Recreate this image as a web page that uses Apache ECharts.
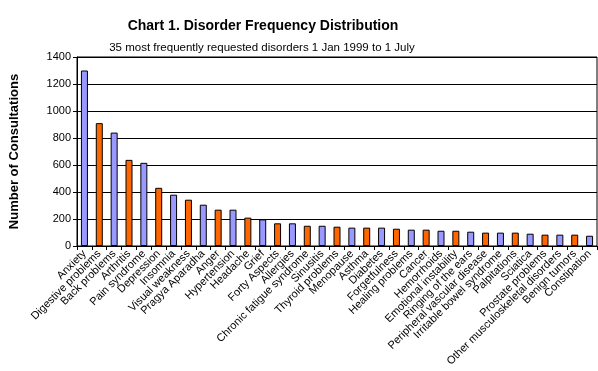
<!DOCTYPE html>
<html>
<head>
<meta charset="utf-8">
<script src="https://cdn.jsdelivr.net/npm/echarts@6/dist/echarts.min.js"></script>
<style>html,body{margin:0;padding:0;background:#fff}#c{width:598px;height:371px}</style>
</head>
<body>
<div id="c"></div>
<script>
const categories = ["Anxiety","Digestive problems","Back problems","Arthritis","Pain syndrome","Depression","Insomnia","Visual weakness","Pragya Aparadha","Anger","Hypertension","Headache","Grief","Forty Aspects","Allergies","Chronic fatigue syndrome","Sinusitis","Thyroid problems","Menopause","Asthma","Diabetes","Forgetfulness","Healing problems","Cancer","Hemorrhoids","Emotional instability","Ringing of the ears","Peripheral vascular disease","Irritable bowel syndrome","Palpitations","Sciatica","Prostate problems","Other musculoskeletal disorders","Benign tumors","Constipation"];
const values = [1300,910,840,638,616,431,380,343,306,269,269,210,197,168,168,150,150,143,136,136,136,128,121,121,113,113,106,99,99,99,91,84,84,84,76];
const yTicks = [0,200,400,600,800,1000,1200,1400];
const colors = ["#9999FF","#FF6600"];

const chart = echarts.init(document.getElementById('c'), null, {renderer:'canvas'});
chart.setOption({
  animation:false,
  backgroundColor:'#fff',
  title:[
    {text:'Chart 1. Disorder Frequency Distribution', left:258, top:14, textAlign:'center',
     textStyle:{fontFamily:'Arial, Liberation Sans', fontSize:14, fontWeight:'bold', color:'#000'}},
    {text:'35 most frequently requested disorders 1 Jan 1999 to 1 July', left:257, top:37, textAlign:'center',
     textStyle:{fontFamily:'Arial, Liberation Sans', fontSize:11.5, fontWeight:'normal', color:'#000'}}
  ],
  grid:{left:75, right:1, top:57, bottom:125, show:true, borderColor:'#000', borderWidth:1},
  xAxis:{
    type:'category', data:categories,
    axisLine:{lineStyle:{color:'#000', width:1}},
    axisTick:{show:true, alignWithLabel:false, length:4, lineStyle:{color:'#000'}},
    axisLabel:{rotate:45, interval:0, margin:6, fontFamily:'Arial, Liberation Sans', fontSize:11, color:'#000'}
  },
  yAxis:{
    type:'value', min:0, max:1400, interval:200,
    name:'Number of Consultations', nameLocation:'middle', nameGap:56,
    nameTextStyle:{fontFamily:'Arial, Liberation Sans', fontSize:13, fontWeight:'bold', color:'#000'},
    axisLine:{show:true, lineStyle:{color:'#000'}},
    axisTick:{show:true, length:4, lineStyle:{color:'#000'}},
    axisLabel:{fontFamily:'Arial, Liberation Sans', fontSize:11, color:'#000', margin:6,
      formatter:function(v){return yTicks.indexOf(v)>=0?String(v):'';}},
    splitLine:{show:true, lineStyle:{color:'#000', width:1}}
  },
  series:[{
    type:'bar', barWidth:7,
    data:values.map((v,i)=>({value:v, itemStyle:{color:colors[i%2]}})),
    itemStyle:{borderColor:'#000', borderWidth:1}
  }]
});
</script>
</body>
</html>
